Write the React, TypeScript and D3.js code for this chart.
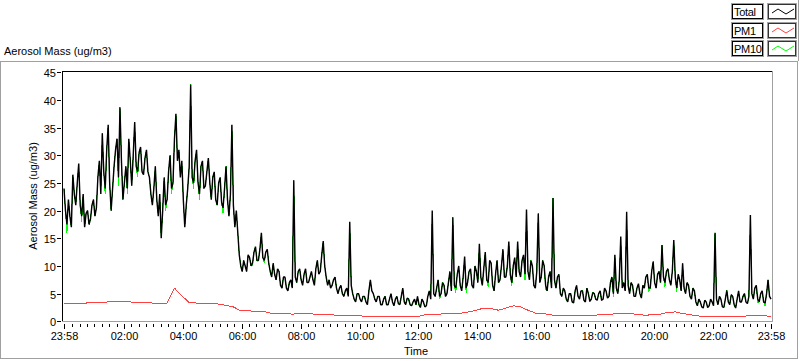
import React, { useEffect, useRef } from "react";
import * as d3 from "d3";

// time is in minutes after midnight, the run starts at 23:58 the evening before
const START_MIN = -2;
const END_MIN = 1438;

// Total, one value every 3 minutes (20 per hour)
const total = [
	24, 20, 17.5, 22, 19, 17, 26.5, 23, 21, 25, 28.5, 21, 19, 23, 17, 19.5, 20, 17.5, 18.5, 21,
	22, 19, 20.5, 26, 29, 23, 34, 27, 24, 31, 35.5, 25, 20, 24, 28, 31, 33, 26, 38.7, 29,
	22, 25, 28, 24, 33, 29, 24.5, 30, 36, 28, 27, 30.5, 31.5, 27, 26.5, 29.5, 31, 27, 26, 23,
	21, 24, 28, 22, 19, 23, 15, 20, 26, 21, 22, 27, 30, 24, 25, 33, 37.5, 29, 31, 26,
	29, 22, 17, 21, 24, 28, 42.8, 26, 25, 29, 31, 25, 23, 28, 29, 24, 24.5, 27, 29.5, 25,
	22, 26, 27, 22, 21, 25, 26, 21.5, 20.5, 24, 28, 22, 19, 23, 35.5, 21, 17, 20, 16, 12,
	10, 9, 11, 10, 9, 12, 11.5, 10, 10.5, 12.5, 13.5, 11, 11, 13, 16, 11.5, 11, 12.5, 13, 10.5,
	9, 8, 10.5, 8.5, 7.5, 9.5, 9, 6.5, 6, 8, 8, 6, 5.5, 7, 7.5, 6, 25.5, 8, 7, 9,
	9.5, 7.5, 6.5, 8.5, 9.5, 7, 7, 8, 9, 7.5, 6.5, 9.5, 11, 8.5, 9, 12, 14.5, 10, 8, 6.5,
	7.5, 6, 6.5, 7.5, 8, 6, 5, 6, 6.5, 5, 4.5, 5.5, 6, 4.5, 18, 6.5, 5, 4, 3.5, 5,
	5, 4, 3.5, 4.5, 4.5, 3.5, 3, 5.5, 7.5, 5.5, 5, 4, 3.5, 4.5, 4.5, 3, 3, 4, 4.5, 3,
	3, 4, 5, 3.5, 2.8, 4, 4.5, 3.2, 3, 4.5, 6, 3.5, 3, 4.2, 4, 3, 2.8, 3.5, 4, 3,
	4.5, 3, 2.5, 4, 3.5, 2.6, 2.8, 4.5, 5.5, 4, 20, 5, 4.5, 6, 7.5, 4.5, 5, 7, 6.5, 4.5,
	5, 7, 9, 5.5, 18.8, 6.5, 6, 8.5, 10, 6.5, 5.5, 8, 11.7, 6, 7, 9, 9.5, 6.5, 6, 10,
	9, 7, 14, 8, 6.5, 9.5, 12.5, 7.5, 7, 11, 10.5, 6.5, 5.5, 8.5, 11, 7, 7.5, 10, 13, 8,
	8, 10, 14.4, 8.5, 7, 10, 11.5, 8, 14.4, 9, 8, 11, 12, 8.5, 20.2, 9, 7.5, 11, 10, 6.5,
	6, 9, 19.5, 7, 8, 11, 10, 6.5, 5.5, 8, 9, 6, 22.3, 7.5, 6, 8, 8.5, 5, 4.5, 6,
	5.5, 4, 3.5, 5, 5, 3.5, 3.3, 5.5, 6.5, 4.5, 4, 5.5, 5.5, 3.8, 3.5, 6, 5, 3.6, 4, 5.2,
	5, 4, 3.8, 5, 5.5, 3.8, 4, 6, 5.5, 4.2, 4.5, 7, 8, 5, 12, 6, 5, 7.5, 15.3, 6,
	7, 5.5, 19.8, 6.5, 5, 7, 6.5, 4.5, 4.5, 6, 6.8, 5, 4.2, 6.5, 6, 8, 8.5, 6, 6, 9,
	10.8, 7, 6, 8.5, 9, 7, 13.8, 8, 7, 9, 9.5, 7.5, 6.5, 9, 14.7, 8, 6, 8.5, 7.5, 5.5,
	10.5, 6, 5, 7, 6.5, 4.5, 4, 6, 5.5, 3.5, 2.8, 4, 3.5, 2.6, 2.4, 3.8, 3.5, 2.5, 2.8, 4,
	3.5, 2.8, 16, 4, 3, 4.5, 4, 2.6, 2.5, 4, 5.6, 3.5, 3, 4.8, 4.5, 3, 2.4, 4, 5.5, 3.5,
	3.5, 4.5, 5, 3.5, 3.2, 4.5, 19.2, 5, 4, 6, 6.5, 4, 3.5, 5, 5.5, 3.5, 3.3, 5, 7.5, 4.5,
	4,
];

// PM10, one value every 3 minutes; it runs under Total and only dips below it now and then
const pm10 = [
	24, 20, 16, 22, 19, 17, 26.5, 23, 21, 25, 28.5, 21, 18, 23, 17, 19.5, 20, 17.5, 18.5, 21,
	22, 19, 20.5, 26, 29, 23, 34, 27, 23, 31, 35.5, 25, 20, 24, 28, 31, 33, 24.5, 38.7, 29,
	22, 25, 28, 23, 33, 29, 24.5, 30, 36, 28, 26, 30.5, 31.5, 27, 26.5, 29.5, 31, 27, 26, 23,
	21, 24, 28, 22, 19, 23, 15, 20, 26, 20, 22, 27, 30, 23, 25, 33, 37.5, 29, 31, 26,
	29, 22, 17, 21, 24, 28, 42.8, 26, 24, 29, 31, 25, 22, 28, 29, 24, 24.5, 27, 29.5, 25,
	22, 26, 27, 22, 21, 25, 26, 21.5, 19.5, 24, 28, 22, 19, 23, 35.5, 21, 17, 20, 16, 12,
	10, 9, 11, 10, 9, 12, 11.5, 10, 10, 12.5, 13.5, 11, 11, 13, 16, 11.5, 10.5, 12.5, 13, 10.5,
	9, 8, 10.5, 8.5, 7.5, 9.5, 9, 6.5, 6, 8, 8, 6, 5.5, 7, 7.5, 6, 25.5, 8, 7, 9,
	9.5, 7.5, 6.5, 8.5, 9.5, 7, 7, 8, 9, 7.5, 6.5, 9.5, 11, 8.5, 9, 12, 14.5, 10, 8, 6.5,
	7.5, 6, 6.5, 7.5, 8, 6, 5, 6, 6.5, 5, 4.5, 5.5, 6, 4.5, 18, 6.5, 5, 4, 3.5, 5,
	5, 4, 3.5, 4.5, 4.5, 3.5, 3, 5.5, 7.5, 5.5, 5, 4, 3.5, 4.5, 4.5, 3, 3, 4, 4.5, 3,
	3, 4, 5, 3.5, 2.8, 4, 4.5, 3.2, 3, 4.5, 6, 3.5, 3, 4.2, 4, 3, 2.8, 3.5, 4, 3,
	4.5, 3, 2.5, 4, 3.5, 2.6, 2.8, 4.5, 5.5, 4, 20, 5, 4.5, 6, 7.5, 4, 5, 7, 6.5, 4.5,
	5, 7, 9, 5.5, 18.8, 6.5, 5.2, 8.5, 10, 6.5, 5.5, 8, 11.7, 5.2, 7, 9, 9.5, 6.5, 6, 10,
	9, 7, 14, 8, 6.5, 9.5, 12.5, 7.5, 6.2, 11, 10.5, 6.5, 5.5, 8.5, 11, 7, 7.5, 10, 13, 8,
	8, 10, 14.4, 8.5, 6.3, 10, 11.5, 8, 14.4, 9, 8, 11, 12, 7.5, 20.2, 9, 7.5, 11, 10, 6.5,
	6, 9, 19.5, 7, 8, 11, 10, 5.8, 5.5, 8, 9, 6, 22.3, 7.5, 6, 8, 8.5, 5, 4.5, 6,
	5.5, 4, 3.5, 5, 5, 3.5, 3.3, 5.5, 6.5, 4.5, 4, 5.5, 5.5, 3.8, 3.5, 6, 5, 3.6, 4, 5.2,
	5, 4, 3.8, 5, 5.5, 3.8, 4, 6, 5.5, 4.2, 4.5, 7, 8, 4.4, 12, 6, 5, 7.5, 15.3, 6,
	7, 5.5, 19.8, 6.5, 5, 7, 6.5, 4.5, 4.5, 6, 6.8, 5, 4.2, 6.5, 6, 8, 8.5, 5.3, 6, 9,
	10.8, 7, 6, 8.5, 9, 7, 13.8, 8, 6.2, 9, 9.5, 7.5, 6.5, 9, 14.7, 8, 5.3, 8.5, 7.5, 5.5,
	10.5, 6, 5, 7, 6.5, 4.5, 4, 6, 5.5, 3.5, 2.8, 4, 3.5, 2.6, 2.4, 3.8, 3.5, 2.5, 2.8, 4,
	3.5, 2.8, 16, 4, 3, 4.5, 4, 2.6, 2.5, 4, 5.6, 3.5, 3, 4.8, 4.5, 3, 2.4, 4, 5.5, 3.5,
	3.5, 4.5, 5, 3.5, 3.2, 4.5, 19.2, 5, 4, 6, 6.5, 3.3, 3.5, 5, 5.5, 3.5, 2.8, 5, 7.5, 4.5,
	4,
];

// PM1, one value every 15 minutes
const pm1 = [
	3.2, 3.2, 3.3, 3.3, 3.4, 3.4, 3.5, 3.5, 3.5, 3.5, 3.4, 3.4,
	3.3, 3.2, 3.3, 6.0, 4.6, 3.4, 3.3, 3.3, 3.3, 3.1, 2.9, 2.6,
	1.9, 1.9, 1.8, 1.8, 1.5, 1.4, 1.4, 1.3, 1.4, 1.4, 1.3, 1.3,
	1.2, 1.1, 1.0, 1.0, 1.0, 0.9, 0.9, 0.9, 0.9, 0.9, 0.9, 0.9,
	0.8, 1.2, 1.3, 1.3, 1.4, 1.4, 1.5, 1.7, 2.0, 2.4, 2.3, 2.0,
	2.4, 2.8, 2.6, 2.0, 1.5, 1.4, 1.2, 1.0, 1.0, 1.0, 1.0, 1.1,
	1.1, 1.2, 1.2, 1.4, 1.5, 1.4, 1.2, 1.1, 1.2, 1.3, 1.6, 1.7,
	1.4, 1.2, 1.0, 0.8, 0.8, 0.8, 0.8, 0.8, 0.9, 1.0, 1.0, 1.0,
	0.9,
];

const yTicks = [0, 5, 10, 15, 20, 25, 30, 35, 40, 45];
const xMajor = [-2, 120, 240, 360, 480, 600, 720, 840, 960, 1080, 1200, 1320, 1438];
const xLabels = ["23:58", "02:00", "04:00", "06:00", "08:00", "10:00", "12:00",
	"14:00", "16:00", "18:00", "20:00", "22:00", "23:58"];
const legendNames = ["Total", "PM1", "PM10"];
const legendColors = ["#000000", "#ff4040", "#00ff00"];

const FONT = "'Liberation Sans', Arial, sans-serif";
const GREY = "#a0a0a0";

export default function App() {
	const ref = useRef<SVGSVGElement>(null);

	useEffect(() => {
		const svg = d3.select(ref.current);
		svg.selectAll("*").remove();

		const plot = { left: 62, top: 71, right: 772, bottom: 321 };
		const x = d3.scaleLinear().domain([START_MIN, END_MIN]).range([64, 771]);
		const y = d3.scaleLinear().domain([0, 45]).range([321.3, 72.3]);

		// outer panel
		svg.append("rect")
			.attr("x", 0.5).attr("y", 61.5)
			.attr("width", 797).attr("height", 297)
			.attr("fill", "none").attr("stroke", GREY);

		svg.append("text")
			.attr("x", 4).attr("y", 55)
			.attr("font-family", FONT).attr("font-size", 11)
			.text("Aerosol Mass (ug/m3)");

		svg.append("clipPath").attr("id", "plot-clip")
			.append("rect")
			.attr("x", plot.left + 1).attr("y", plot.top + 1)
			.attr("width", plot.right - plot.left - 1)
			.attr("height", plot.bottom - plot.top - 1);

		const g = svg.append("g").attr("clip-path", "url(#plot-clip)");

		// each series spans the whole day, so its step follows from its length
		const drawSeries = (values: number[], color: string, width: number, crisp: boolean) => {
			const step = (END_MIN - START_MIN) / (values.length - 1);
			const line = d3.line<number>()
				.x((d, i) => x(START_MIN + i * step))
				.y((d) => y(d));
			g.append("path")
				.attr("d", line(values))
				.attr("fill", "none")
				.attr("stroke", color)
				.attr("stroke-width", width)
				.attr("stroke-linejoin", "bevel")
				.attr("shape-rendering", crisp ? "crispEdges" : "auto");
		};

		drawSeries(pm10, legendColors[2], 1, true);
		drawSeries(total, legendColors[0], 1.4, false);
		drawSeries(pm1, legendColors[1], 1, true);

		// plot frame, dark top/left and grey right/bottom
		svg.append("line")
			.attr("x1", plot.left).attr("x2", plot.right)
			.attr("y1", plot.top + 0.5).attr("y2", plot.top + 0.5)
			.attr("stroke", "#000");
		svg.append("line")
			.attr("x1", plot.left + 0.5).attr("x2", plot.left + 0.5)
			.attr("y1", plot.top).attr("y2", plot.bottom)
			.attr("stroke", "#000");
		svg.append("line")
			.attr("x1", plot.right + 0.5).attr("x2", plot.right + 0.5)
			.attr("y1", plot.top).attr("y2", plot.bottom + 1)
			.attr("stroke", GREY);
		svg.append("line")
			.attr("x1", plot.left).attr("x2", plot.right + 1)
			.attr("y1", plot.bottom + 0.5).attr("y2", plot.bottom + 0.5)
			.attr("stroke", GREY);

		// y axis
		const yAxis = svg.append("g");
		yTicks.forEach((t) => {
			const py = Math.round(y(t)) + 0.5;
			yAxis.append("line")
				.attr("x1", 57).attr("x2", 61)
				.attr("y1", py).attr("y2", py)
				.attr("stroke", "#000");
			yAxis.append("text")
				.attr("x", 56).attr("y", py + 4)
				.attr("text-anchor", "end")
				.attr("font-family", FONT).attr("font-size", 11)
				.text(t);
		});

		svg.append("text")
			.attr("transform", `translate(37, ${(plot.top + plot.bottom) / 2}) rotate(-90)`)
			.attr("text-anchor", "middle")
			.attr("font-family", FONT).attr("font-size", 11)
			.text("Aerosol Mass (ug/m3)");

		// x axis: minor ticks every 15 minutes, labelled ones every 2 hours
		const xAxis = svg.append("g");
		d3.range(0, 1440, 15).forEach((m) => {
			if (m % 120 === 0) return;
			const px = Math.round(x(m)) + 0.5;
			xAxis.append("line")
				.attr("x1", px).attr("x2", px)
				.attr("y1", 324).attr("y2", 327)
				.attr("stroke", "#000");
		});
		xMajor.forEach((m, i) => {
			const px = Math.round(x(m)) + 0.5;
			xAxis.append("line")
				.attr("x1", px).attr("x2", px)
				.attr("y1", 324).attr("y2", 329)
				.attr("stroke", "#000");
			xAxis.append("text")
				.attr("x", px).attr("y", 340)
				.attr("text-anchor", "middle")
				.attr("font-family", FONT).attr("font-size", 11)
				.text(xLabels[i]);
		});

		svg.append("text")
			.attr("x", 416).attr("y", 355)
			.attr("text-anchor", "middle")
			.attr("font-family", FONT).attr("font-size", 11)
			.text("Time");

		// legend
		svg.append("line")
			.attr("x1", 798.5).attr("x2", 798.5)
			.attr("y1", 0).attr("y2", 61)
			.attr("stroke", GREY);
		const zig = [[4, 9], [10, 5], [18, 10], [26, 5]];
		legendNames.forEach((name, i) => {
			const top = 4 + i * 18.5;
			const row = svg.append("g").attr("transform", `translate(0, ${Math.round(top)})`);
			row.append("rect")
				.attr("x", 731.5).attr("y", -0.5).attr("width", 32).attr("height", 16)
				.attr("fill", "#fff").attr("stroke", GREY);
			row.append("rect")
				.attr("x", 732.5).attr("y", 0.5).attr("width", 30).attr("height", 14)
				.attr("fill", "none").attr("stroke", "#000");
			row.append("text")
				.attr("x", 734).attr("y", 12)
				.attr("font-family", FONT).attr("font-size", 11)
				.attr("letter-spacing", -0.3)
				.text(name);
			row.append("rect")
				.attr("x", 767.5).attr("y", -0.5).attr("width", 29).attr("height", 16)
				.attr("fill", "#fff").attr("stroke", GREY);
			row.append("rect")
				.attr("x", 768.5).attr("y", 0.5).attr("width", 27).attr("height", 14)
				.attr("fill", "none").attr("stroke", "#000").attr("stroke-opacity", 0.8);
			row.append("path")
				.attr("d", d3.line()(zig.map(([a, b]) => [768 + a, b] as [number, number])))
				.attr("fill", "none")
				.attr("stroke", legendColors[i]);
		});
	}, []);

	return (
		<svg
			ref={ref}
			width={800}
			height={361}
			style={{ position: "absolute", left: 0, top: 0, background: "#fff" }}
		/>
	);
}
